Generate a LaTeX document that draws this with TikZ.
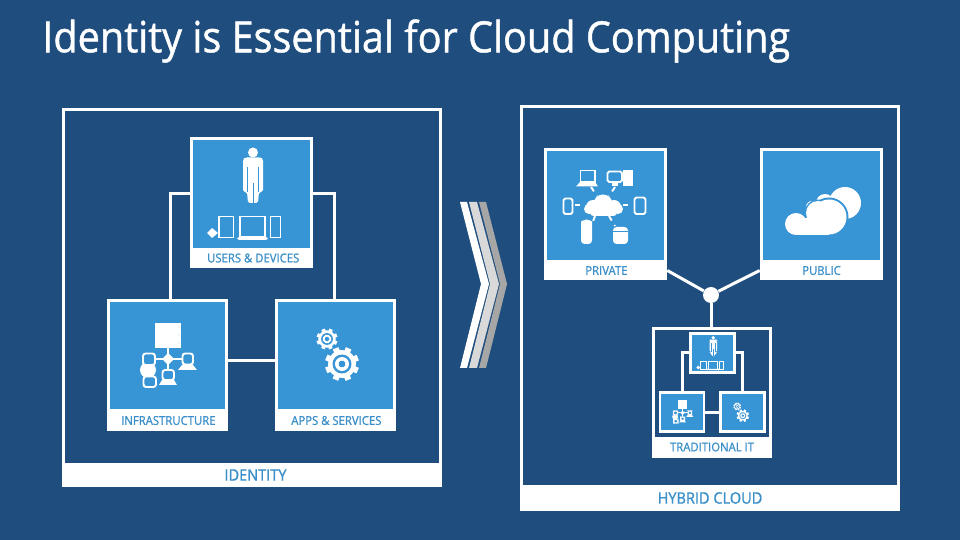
\documentclass[tikz,border=0pt]{standalone}
\usepackage{fontspec}
\setmainfont[FakeStretch=.92,FakeBold=1]{Open Sans}
\usetikzlibrary{calc}

\definecolor{pagebg}{HTML}{1F4E7E}
\definecolor{cardblue}{HTML}{3794D5}
\definecolor{labelblue}{HTML}{3A8FC9}
\def\pxu{.02cm}

% small gear: x, y, scale
\newcommand{\cogat}[3]{
  \begin{scope}[shift={(#1,#2)}, scale=#3, rotate=22]
    \fill[white] (0,0) circle (14);
    \foreach \a in {0,45,90,135} {
      \fill[white, rotate=\a] (-3,-17) rectangle (3,17);
    }
    \fill[cardblue] (0,0) circle (9.5);
    \fill[white] (0,0) circle (7);
    \fill[cardblue] (0,0) circle (3.5);
  \end{scope}
}

\tikzset{
  iconline/.style = {line width=1.1pt},
  bodygap/.style = {line width=.3pt},
  boxsize/.style 2 args = {minimum width=#1*\pxu, minimum height=#2*\pxu},
  frame/.style = {rectangle, draw=white, line width=3*\pxu, inner sep=0pt},
  bluecard/.style = {rectangle, draw=white, fill=cardblue, line width=3*\pxu, inner sep=0pt},
  minicard/.style = {rectangle, draw=white, fill=cardblue, line width=2.5*\pxu, inner sep=0pt, boxsize={44}{39}},
  labelband/.style = {rectangle, fill=white, text=labelblue, inner sep=0pt, font=\fontsize{7}{8}\selectfont},
  wire/.style = {draw=white, line width=3*\pxu},
  usericon/.pic = {
    \fill[white] (63,15.5) circle (5);
    \fill[white, rounded corners=1] (53,22) -- (55,20.5) -- (71,20.5) -- (73,22) -- (73,55) -- (69,55) -- (68,66) -- (58,66) -- (57,55) -- (53,55) -- cycle;
    \draw[cardblue, bodygap] (57.5,30) -- (57.5,55) (68.5,30) -- (68.5,55) (63,46) -- (63,66);
    \fill[white] (17,96) -- (22,91) -- (28,96) -- (22,101) -- cycle;
    \draw[white, iconline] (29,79.5) rectangle (43.5,100.5);
    \draw[white, iconline] (50,79.5) rectangle (75,100);
    \fill[white, rounded corners=1] (47,100) rectangle (78,103);
    \draw[white, iconline] (80.5,79.5) rectangle (90.5,100.5);
  },
  neticon/.pic = {
    \draw[white, iconline] (61,48) -- (61,59) (42,59) -- (80,59) (61,59) -- (61,70);
    \fill[white] (48,23) rectangle (74,48);
    \fill[cardblue] (72,27) circle (.4) (72,35) circle (.4) (72,43) circle (.4);
    \fill[white] (61,53) -- (67,59) -- (61,65) -- (55,59) -- cycle;
    \fill[white] (41,70) circle (8);
    \draw[white, iconline, fill=cardblue, rounded corners=1.5] (36,53.5) rectangle (48,65);
    \draw[white, iconline, fill=cardblue, rounded corners=1.5] (36.5,76.5) rectangle (49,87);
    \draw[white, iconline, fill=cardblue, rounded corners=1.5] (55.5,70) rectangle (67,80);
    \fill[white] (55,80) -- (67,80) -- (70,85) -- (52,85) -- cycle;
    \draw[white, iconline, fill=cardblue, rounded corners=1.5] (75.5,53.5) rectangle (86,64.5);
    \fill[white] (75,65) -- (86,65) -- (90,70) -- (71,70) -- cycle;
  },
  gearicon/.pic = {
    \cogat{52}{39}{.62}
    \cogat{67}{64}{1}
  }
}

\begin{document}
\begin{tikzpicture}[x=\pxu, y=-\pxu]

\fill[pagebg] (0,0) rectangle (960,540);
\useasboundingbox (0,0) rectangle (960,540);

\node[anchor=west, text=white, inner sep=0pt, font=\fontsize{24.5}{28}\selectfont] (title) at (42,41) {Identity is Essential for Cloud Computing};

% left panel
\node[frame, boxsize={377}{376}] (identity) at (252,297.5) {};
\node[labelband, boxsize={380}{24}, font=\fontsize{9}{10}\selectfont] (identitylabel) at (252,475) {\hspace{4pt}IDENTITY};

\node[bluecard, boxsize={120}{111}] (users) at (251.5,193.75) {};
\node[labelband, boxsize={123}{20}] (userslabel) at (251.5,258) {\hspace{2pt}USERS \& DEVICES};
\node[bluecard, boxsize={118}{110}] (infra) at (167.5,356) {};
\node[labelband, boxsize={121}{21}] (infralabel) at (167.5,420.5) {\hspace{1pt}INFRASTRUCTURE};
\node[bluecard, boxsize={118}{110}] (apps) at (335.5,356) {};
\node[labelband, boxsize={121}{21}] (appslabel) at (335.5,420.5) {\hspace{1pt}APPS \& SERVICES};

\coordinate (infratop) at (170,300);
\coordinate (appstop) at (334,300);
\coordinate (infraside) at (228,361);
\coordinate (appsside) at (275,361);
\draw[wire] (users.west) -| (infratop);
\draw[wire] (users.east) -| (appstop);
\draw[wire] (infraside) -- (appsside);

\pic at (190,137) {usericon};
\pic at (107,300) {neticon};
\pic at (275,300) {gearicon};

% chevrons
\fill[white] (460,202) -- (467,202) -- (489,284) -- (467,368) -- (460,368) -- (481,284) -- cycle;
\fill[gray!30] (469,202) -- (477,202) -- (499,284) -- (477,368) -- (469,368) -- (490,284) -- cycle;
\fill[gray!70] (479,202) -- (486,202) -- (507,284) -- (486,368) -- (479,368) -- (500,284) -- cycle;

% right panel
\node[frame, boxsize={377}{402}] (hybrid) at (710,307.5) {};
\node[labelband, boxsize={380}{26}, font=\fontsize{9}{10}\selectfont] (hybridlabel) at (710,498) {HYBRID CLOUD};

\node[bluecard, boxsize={120}{112.5}] (private) at (605.5,205.75) {};
\node[labelband, boxsize={123}{19}] (privatelabel) at (605.5,270.5) {\hspace{1pt}PRIVATE};
\node[bluecard, boxsize={120}{112.5}] (public) at (821.5,205.75) {};
\node[labelband, boxsize={123}{19}] (publiclabel) at (821.5,270.5) {PUBLIC};

\node[circle, fill=white, inner sep=0pt, boxsize={16}{16}] (hub) at (711,295) {};
\node[frame, boxsize={117}{127}] (traditional) at (712,392.5) {};
\node[labelband, boxsize={120}{21}] (traditionallabel) at (712,447) {TRADITIONAL IT};
\draw[wire] (privatelabel.east) -- (hub);
\draw[wire] (publiclabel.west) -- (hub);
\draw[wire] (hub) -- (hub |- traditional.north);

\node[minicard] (minitop) at (712.5,353) {};
\node[minicard] (minileft) at (682,412) {};
\node[minicard] (miniright) at (742.5,412) {};
\draw[wire] (minitop.west) -| (minileft.north);
\draw[wire] (minitop.east) -| (miniright.north);
\draw[wire] (minileft.east) -- (miniright.west);

\pic[scale=.37, iconline/.style={line width=.45pt}, bodygap/.style={line width=.1pt}] at (690,332) {usericon};
\pic[scale=.37, iconline/.style={line width=.45pt}] at (660,391) {neticon};
\pic[scale=.37, iconline/.style={line width=.45pt}] at (718,392) {gearicon};

% private cloud
\draw[white, iconline, dashed] (575,205) -- (584,205) (623,205) -- (633,205);
\draw[white, iconline, dashed] (591,187) -- (597,196) (615,187) -- (609,196);
\draw[white, iconline, dashed] (595,216) -- (592,224) (609,216) -- (615,226);
\fill[white] (603,204) circle (9.5) (593,207) circle (7) (614,207) circle (7) (589,209) circle (5) (618,209) circle (5);
\fill[white, rounded corners=2] (590,205) rectangle (617,216);
\draw[white, iconline, fill=cardblue] (580.5,170.5) rectangle (595,182);
\fill[white] (580,182) -- (595,182) -- (598,186.5) -- (576,186.5) -- cycle;
\fill[white] (623,170) rectangle (633,186);
\draw[white, iconline, fill=cardblue, rounded corners=1] (607.5,171.5) rectangle (622,182);
\fill[white] (612,182) rectangle (618,186);
\draw[white, iconline, rounded corners=1] (563.5,198.5) rectangle (572.5,214);
\draw[white, iconline, rounded corners=1] (634.5,197.5) rectangle (645.5,214);
\fill[white, rounded corners=2] (581,244) -- (581,225) arc (180:360:5.5) -- (592,244) -- cycle;
\fill[white, rounded corners=2] (613,227) rectangle (628,244);
\draw[cardblue, line width=.5pt] (613,231) -- (628,231);

% public cloud
\fill[white] (845,203) circle (16) (825,203) circle (9) (812,207) circle (6);
\fill[white] (825,203) rectangle (845,215);
\fill[cardblue] (829,217) circle (19.5) (818,213) circle (13.5) (796,224) circle (12.5);
\fill[white] (829,217) circle (17.5) (818,213) circle (12) (796,224) circle (11);
\fill[white] (796,218) rectangle (829,235);

\end{tikzpicture}
\end{document}
